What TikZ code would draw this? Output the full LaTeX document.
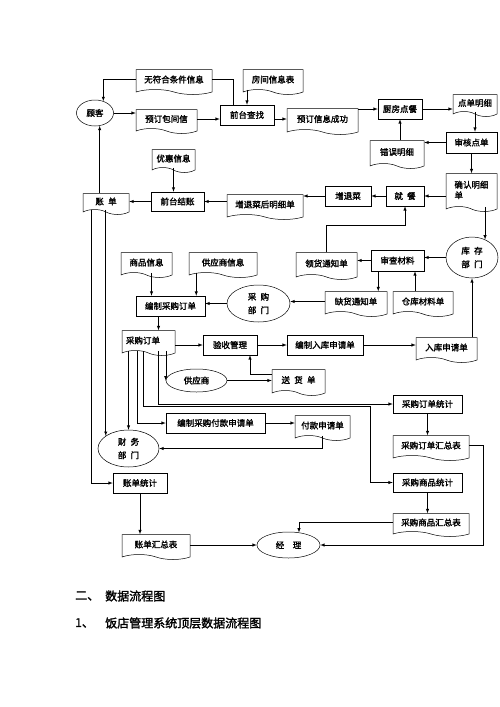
\documentclass[tikz,border=0pt]{standalone}
\usepackage{fontspec}
\setmainfont{Noto Sans CJK SC}[AutoFakeBold=1.8]
\usetikzlibrary{shapes.geometric,shapes.symbols}

\begin{document}
\begin{tikzpicture}[x=1pt,y=-1pt,>=latex,line width=0.5pt,
  every node/.style={font=\fontsize{8.5}{10.5}\selectfont\bfseries,inner sep=1pt},
  box/.style 2 args={draw,rectangle,minimum width=#1,minimum height=#2},
  docu/.style 2 args={draw,tape,tape bend top=none,tape bend bottom=out and in,
    tape bend height=5pt,minimum width=#1,minimum height=#2},
  oval/.style 2 args={draw,ellipse,inner sep=0pt,align=center,minimum width=#1,minimum height=#2},
  title/.style={font=\fontsize{12}{14}\selectfont\bfseries,inner sep=0pt,anchor=west}]
\useasboundingbox (0,0) rectangle (500,707);

% top row
\node[oval={37pt}{26pt}] (gk) at (95,113) {顾客};
\node[docu={76pt}{25pt}] (wfh) at (174,79.5) {无符合条件信息};
\node[docu={60pt}{25pt}] (fjxx) at (273,79.5) {房间信息表};
\node[docu={61pt}{24pt}] (ydbj) at (166.5,119) {预订包间信};
\node[box={54pt}{20pt}] (qtcz) at (247,115) {前台查找};
\node[docu={71pt}{26pt}] (ydcg) at (322.5,119) {预订信息成功};
\node[box={44pt}{20pt}] (cfdc) at (400,109) {厨房点餐};
\node[docu={44pt}{22pt}] (ddmx) at (475,103) {点单明细};
\node[box={51pt}{21pt}] (shdd) at (471.5,142.5) {审核点单};
\node[docu={54pt}{28pt}] (cwmx) at (397,152) {错误明细};
\node[docu={51pt}{38pt},align=left] (qrmx) at (471.5,190) {确认明细\\单};

% settle the bill
\node[box={38pt}{20pt}] (jc) at (405,196) {就\enspace 餐};
\node[box={46pt}{20pt}] (ztc) at (348,196) {增退菜};
\node[docu={76pt}{25pt}] (ztmx) at (265,204.5) {增退菜后明细单};
\node[box={53pt}{19pt}] (qtjz) at (177.5,201.5) {前台结账};
\node[docu={43pt}{23pt}] (yhxx) at (173.5,158.5) {优惠信息};
\node[docu={46pt}{21pt}] (zd) at (106,201.5) {账\enspace 单};

% stock
\node[oval={52pt}{41pt}] (kcbm) at (472,257.5) {库\enspace 存\\[3pt]部\enspace 门};
\node[box={53pt}{21pt}] (sccl) at (397.5,260.5) {审查材料};
\node[docu={61pt}{27pt}] (lhtz) at (326.5,263.5) {领货通知单};
\node[docu={62pt}{25pt}] (qhtz) at (356,301.5) {缺货通知单};
\node[docu={60pt}{25pt}] (ckcl) at (423,301.5) {仓库材料单};

% purchase
\node[oval={63pt}{37pt}] (cgbm) at (258.5,303.5) {采\enspace 购\\[3pt]部\enspace 门};
\node[docu={51pt}{25pt}] (spxx) at (146.5,262.5) {商品信息};
\node[docu={68pt}{25pt}] (gysxx) at (223,262.5) {供应商信息};
\node[box={69pt}{20pt}] (bzcg) at (170.5,306) {编制采购订单};
\node[docu={53pt}{25pt},text width=45pt,align=left] (cgdd) at (148.5,340.5) {采购订单};
\node[box={54pt}{20pt}] (ysgl) at (230,345) {验收管理};
\node[box={76pt}{20pt}] (bzrk) at (325,345) {编制入库申请单};
\node[docu={61pt}{25pt}] (rksq) at (446.5,347.5) {入库申请单};
\node[oval={61pt}{23pt}] (gys) at (196.5,380.5) {供应商};
\node[docu={53pt}{26pt}] (shd) at (298.5,380) {送\enspace 货\enspace 单};

% statistics
\node[box={69pt}{18pt}] (cgddtj) at (427.5,404) {采购订单统计};
\node[docu={76pt}{25pt}] (cgddhz) at (431,445.5) {采购订单汇总表};
\node[box={99pt}{20pt}] (bzfk) at (215.5,423) {编制采购付款申请单};
\node[docu={55pt}{25pt}] (fksq) at (322.5,425.5) {付款申请单};
\node[oval={61pt}{37pt}] (cwbm) at (128.5,448.5) {财\enspace 务\\[3pt]部\enspace 门};
\node[box={54pt}{20pt}] (zdtj) at (140,483) {账单统计};
\node[docu={68pt}{25pt}] (zdhz) at (156,544.5) {账单汇总表};
\node[box={69pt}{19pt}] (cgsptj) at (427.5,482.5) {采购商品统计};
\node[docu={76pt}{23pt}] (cgsphz) at (431,522.5) {采购商品汇总表};
\node[oval={63pt}{26pt}] (jl) at (288.5,545) {经\quad 理};

% captions
\node[title] (h1a) at (75,596) {二、};
\node[title] (h1b) at (105,596) {数据流程图};
\node[title] (h2a) at (75,623) {1、};
\node[title] (h2b) at (105,623) {饭店管理系统顶层数据流程图};

% booking
\draw ([xshift=13pt]qtcz.north west) |- (wfh.east);
\draw[->] (wfh.west) -| (gk.55);
\draw[->] (qtcz.north |- fjxx.south) -- (qtcz.north);
\draw[->] (gk.east) -- (ydbj.west |- gk.east);
\draw[->] (ydbj.east) -- (qtcz.west |- ydbj.east);
\draw[->] (qtcz.east |- ydcg.west) -- (ydcg.west);
\draw[->] (ydcg.east |- cfdc.west) -- (cfdc.west);
\draw[->] (cfdc.east) -- (ddmx.west |- cfdc.east);
\draw[->] (ddmx.south) -- (ddmx.south |- shdd.north);
\draw[->] (shdd.west) -- (cwmx.east |- shdd.west);
\draw[->] (cfdc.south |- cwmx.north) -- (cfdc.south);
\draw[->] (shdd.south) -- (shdd.south |- qrmx.north);

% meal and bill
\draw[->] (qrmx.west |- jc.east) -- (jc.east);
\draw[->] (jc.west) -- (ztc.east);
\draw[->] (ztc.west) -- (ztmx.east |- ztc.west);
\draw[->] (ztmx.west |- qtjz.east) -- (qtjz.east);
\draw[->] (yhxx.south) -- (yhxx.south |- qtjz.north);
\draw[->] (qtjz.west) -- (zd.east |- qtjz.west);
\draw[->] (zd.north -| gk.-70) -- (gk.-70);
\draw[->] (zd.south -| cwbm.151) -- (cwbm.151);
\draw[->] ([xshift=-15pt]zd.south) |- (zdtj.west);
\draw[->] (zdtj.south) -- (zdtj.south |- zdhz.north);
\draw[->] (zdhz.east |- jl.west) -- (jl.west);

% stock
\draw[->] (qrmx.south -| kcbm.54) -- (kcbm.54);
\draw[->] (kcbm.west) -- (sccl.east |- kcbm.west);
\draw[->] (sccl.west) -- (lhtz.east |- sccl.west);
\draw[->] (lhtz.north) -- ++(0,-27) -| (jc.south);
\draw[->] ([xshift=-9pt]qhtz.north east |- sccl.south) -- ([xshift=-9pt]qhtz.north east);
\draw[->] ([xshift=-8pt]ckcl.north) -- ([xshift=-8pt]ckcl.north |- sccl.south);
\draw[->] (qhtz.west) -- (qhtz.west -| cgbm.east);
\draw[->] (rksq.north -| kcbm.south) -- (kcbm.south);

% purchase
\draw[->] (cgbm.west) -- (bzcg.east |- cgbm.west);
\draw[->] ([xshift=5pt]spxx.south) -- ([xshift=5pt]spxx.south |- bzcg.north);
\draw[->] ([xshift=-9pt]bzcg.north east |- gysxx.south) -- ([xshift=-9pt]bzcg.north east);
\draw[->] ([xshift=10pt]cgdd.north |- bzcg.south) -- ([xshift=10pt]cgdd.north);
\draw[->] (cgdd.east |- ysgl.west) -- (ysgl.west);
\draw[->] (ysgl.east) -- (bzrk.west);
\draw[->] (bzrk.east) -- (rksq.west |- bzrk.east);
\draw[->] (gys.west |- cgdd.south) -- (gys.west);
\draw[->] (gys.east) -- (shd.west |- gys.east);
\draw[->] ([yshift=6pt]shd.west) -| ([xshift=20pt]ysgl.south);
\draw[->] (cwbm.north |- cgdd.south) -- (cwbm.north);
\draw[->] ([xshift=-11.5pt]cgdd.south) |- (bzfk.west);
\draw[->] ([xshift=-5.5pt]cgdd.south) -- ++(0,55) -| ([xshift=-23pt]cgsptj.west) -- (cgsptj.west);
\draw[->] ([xshift=9.5pt]cgdd.south) |- (cgddtj.west);
\draw[->] (bzfk.east) -- (fksq.west |- bzfk.east);
\draw[->] (fksq.south) |- (cwbm.east);

% statistics
\draw[->] (cgddtj.south) -- (cgddtj.south |- cgddhz.north);
\draw[->] (cgsptj.south) -- (cgsptj.south |- cgsphz.north);
\draw[->] (cgsphz.west) -| (jl.50);
\draw[->] (cgddhz.east) -- ++(14,0) |- (jl.east);
\end{tikzpicture}
\end{document}
